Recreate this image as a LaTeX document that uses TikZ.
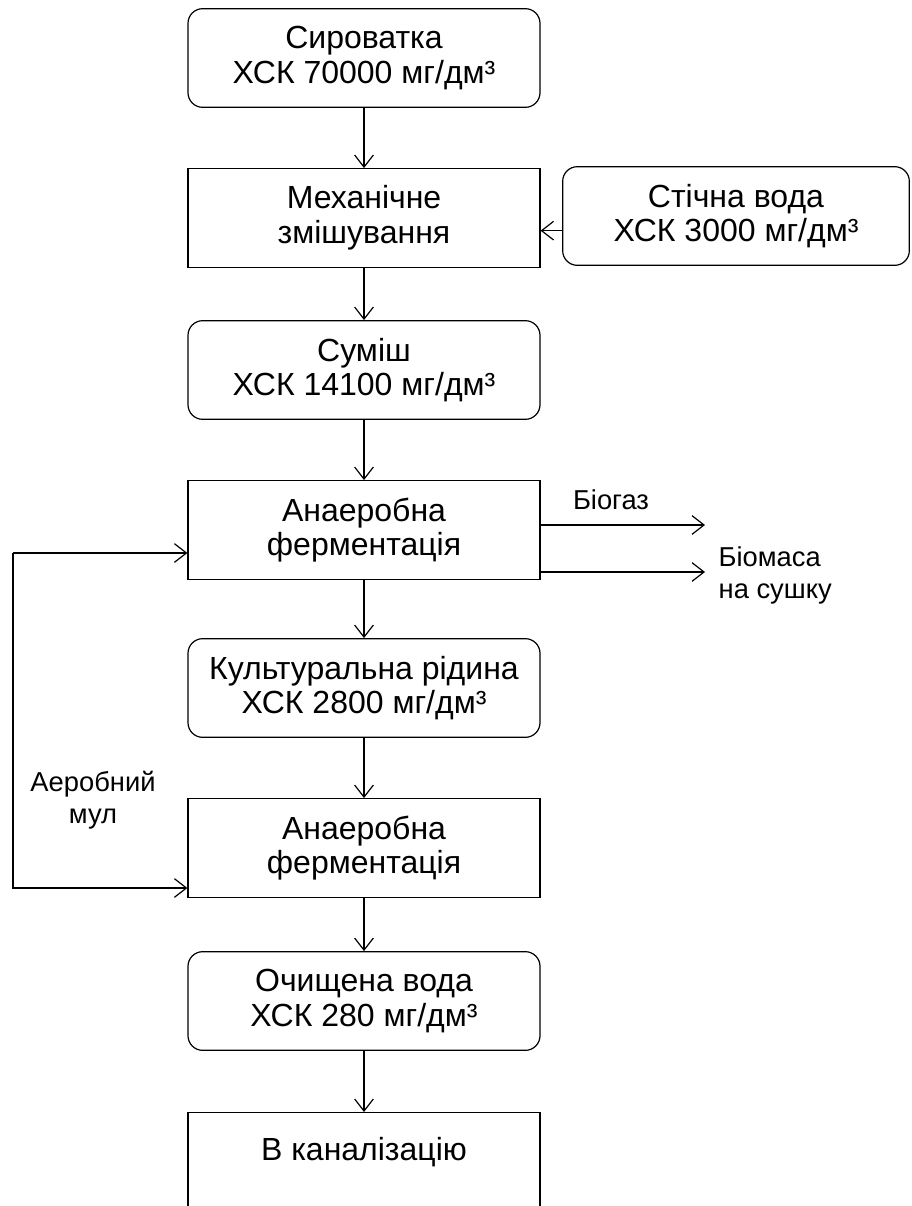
\documentclass[tikz,border=0pt]{standalone}
\usepackage{fontspec}
\setmainfont{Liberation Sans}
\usetikzlibrary{arrows.meta}

\begin{document}
\begin{tikzpicture}[x=0.75pt,y=-0.75pt,
		every node/.style={font=\fontsize{24}{26}\selectfont, align=center},
		note/.style={font=\fontsize{20.5}{24}\selectfont},
		stage/.style={draw, line width=0.9pt, minimum width=264pt, minimum height=74pt, inner sep=0pt},
		medium/.style={stage, rounded corners=11pt},
		flow/.style={-{Straight Barb[length=9pt,width=14pt]}, line width=0.9pt}]
			\useasboundingbox (0,0) rectangle (912,1206);
			\def\colx{364}
			\node[medium] (whey) at (\colx,58) {Сироватка\\ХСК 70000 мг/дм³};
			\node[stage] (mixing) at (\colx,218) {Механічне\\змішування};
			\node[medium, minimum width=260pt] (waste) at (736,216) {Стічна вода\\ХСК 3000 мг/дм³};
			\node[medium] (blend) at (\colx,370) {Суміш\\ХСК 14100 мг/дм³};
			\node[stage] (anaer1) at (\colx,530) {Анаеробна\\ферментація};
			\node[medium] (culture) at (\colx,688) {Культуральна рідина\\ХСК 2800 мг/дм³};
			\node[stage] (anaer2) at (\colx,848) {Анаеробна\\ферментація};
			\node[medium] (clean) at (\colx,1001) {Очищена вода\\ХСК 280 мг/дм³};
			\node[stage, anchor=north, text height=36pt, text depth=80pt] (sewer) at (\colx,1112) {В каналізацію};
			\draw[flow] (whey) -- (mixing);
			\draw[flow] ([yshift=-11pt]waste.west) -- ([yshift=-11pt]waste.west -| mixing.east);
			\draw[flow] (mixing) -- (blend);
			\draw[flow] (blend) -- (anaer1);
			\draw[flow] (anaer1) -- (culture);
			\draw[flow] (culture) -- (anaer2);
			\draw[flow] (anaer2) -- (clean);
			\draw[flow] (clean) -- (sewer);
			\coordinate (gas) at (705,525);
			\coordinate (mass) at (705,572);
			\draw[flow] (gas -| anaer1.east) -- (gas);
			\draw[flow] (mass -| anaer1.east) -- (mass);
			\node[note] (gaslbl) at (611,500) {Біогаз};
			\node[note, anchor=west, align=left] (masslbl) at (714,575) {Біомаса\\на сушку};
			\coordinate (fbtop) at (13,553);
			\coordinate (fbbot) at (13,888);
			\draw[flow] (fbtop) -- (fbtop -| anaer1.west);
			\draw[flow] (fbtop) -- (fbbot) -- (fbbot -| anaer2.west);
			\node[note] (sludge) at (93,800) {Аеробний\\мул};
		\end{tikzpicture}
\end{document}
